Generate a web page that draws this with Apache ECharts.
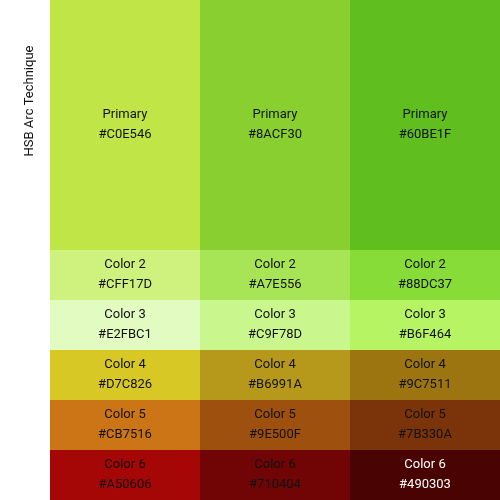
<!DOCTYPE html>
<html><head><meta charset="utf-8">
<script src="https://cdn.jsdelivr.net/npm/echarts@6/dist/echarts.min.js"></script>
<style>html,body{margin:0;padding:0;background:#fff}#c{width:500px;height:500px}</style>
</head><body><div id="c"></div>
<script>
const columns = ['A', 'B', 'C'];
const rowNames = ['Primary', 'Color 2', 'Color 3', 'Color 4', 'Color 5', 'Color 6'];
const rowSizes = [5, 1, 1, 1, 1, 1];
const primaryColors = ['#C0E546', '#8ACF30', '#60BE1F'];
const color2 = ['#CFF17D', '#A7E556', '#88DC37'];
const color3 = ['#E2FBC1', '#C9F78D', '#B6F464'];
const color4 = ['#D7C826', '#B6991A', '#9C7511'];
const color5 = ['#CB7516', '#9E500F', '#7B330A'];
const color6 = ['#A50606', '#710404', '#490303'];
const rowColors = [primaryColors, color2, color3, color4, color5, color6];
const darkCells = ['#490303'];

const series = [];
for (let r = rowNames.length - 1; r >= 0; r--) {
  series.push({
    type: 'bar', stack: 's', barWidth: '100%', barGap: 0, barCategoryGap: 0,
    name: rowNames[r],
    data: columns.map((c, i) => ({
      value: rowSizes[r],
      itemStyle: { color: rowColors[r][i] },
      label: { color: darkCells.includes(rowColors[r][i]) ? '#fff' : '#111' }
    })),
    label: {
      show: true, position: 'inside', fontFamily: 'Roboto', fontSize: 13, lineHeight: 20,
      formatter: p => rowNames[r] + '\n' + rowColors[r][p.dataIndex]
    }
  });
}
const chart = echarts.init(document.getElementById('c'));
chart.setOption({
  animation: false,
  grid: { left: 50, right: 0, top: 0, bottom: 0 },
  xAxis: { type: 'category', data: columns, show: false },
  yAxis: { type: 'value', min: 0, max: 10, show: false },
  graphic: [{
    type: 'text', x: 30, y: 101, rotation: Math.PI / 2,
    style: { text: 'HSB Arc Technique', fontFamily: 'Roboto', fontSize: 13, fill: '#111',
      align: 'center', verticalAlign: 'middle' }
  }],
  series
});
</script></body></html>
